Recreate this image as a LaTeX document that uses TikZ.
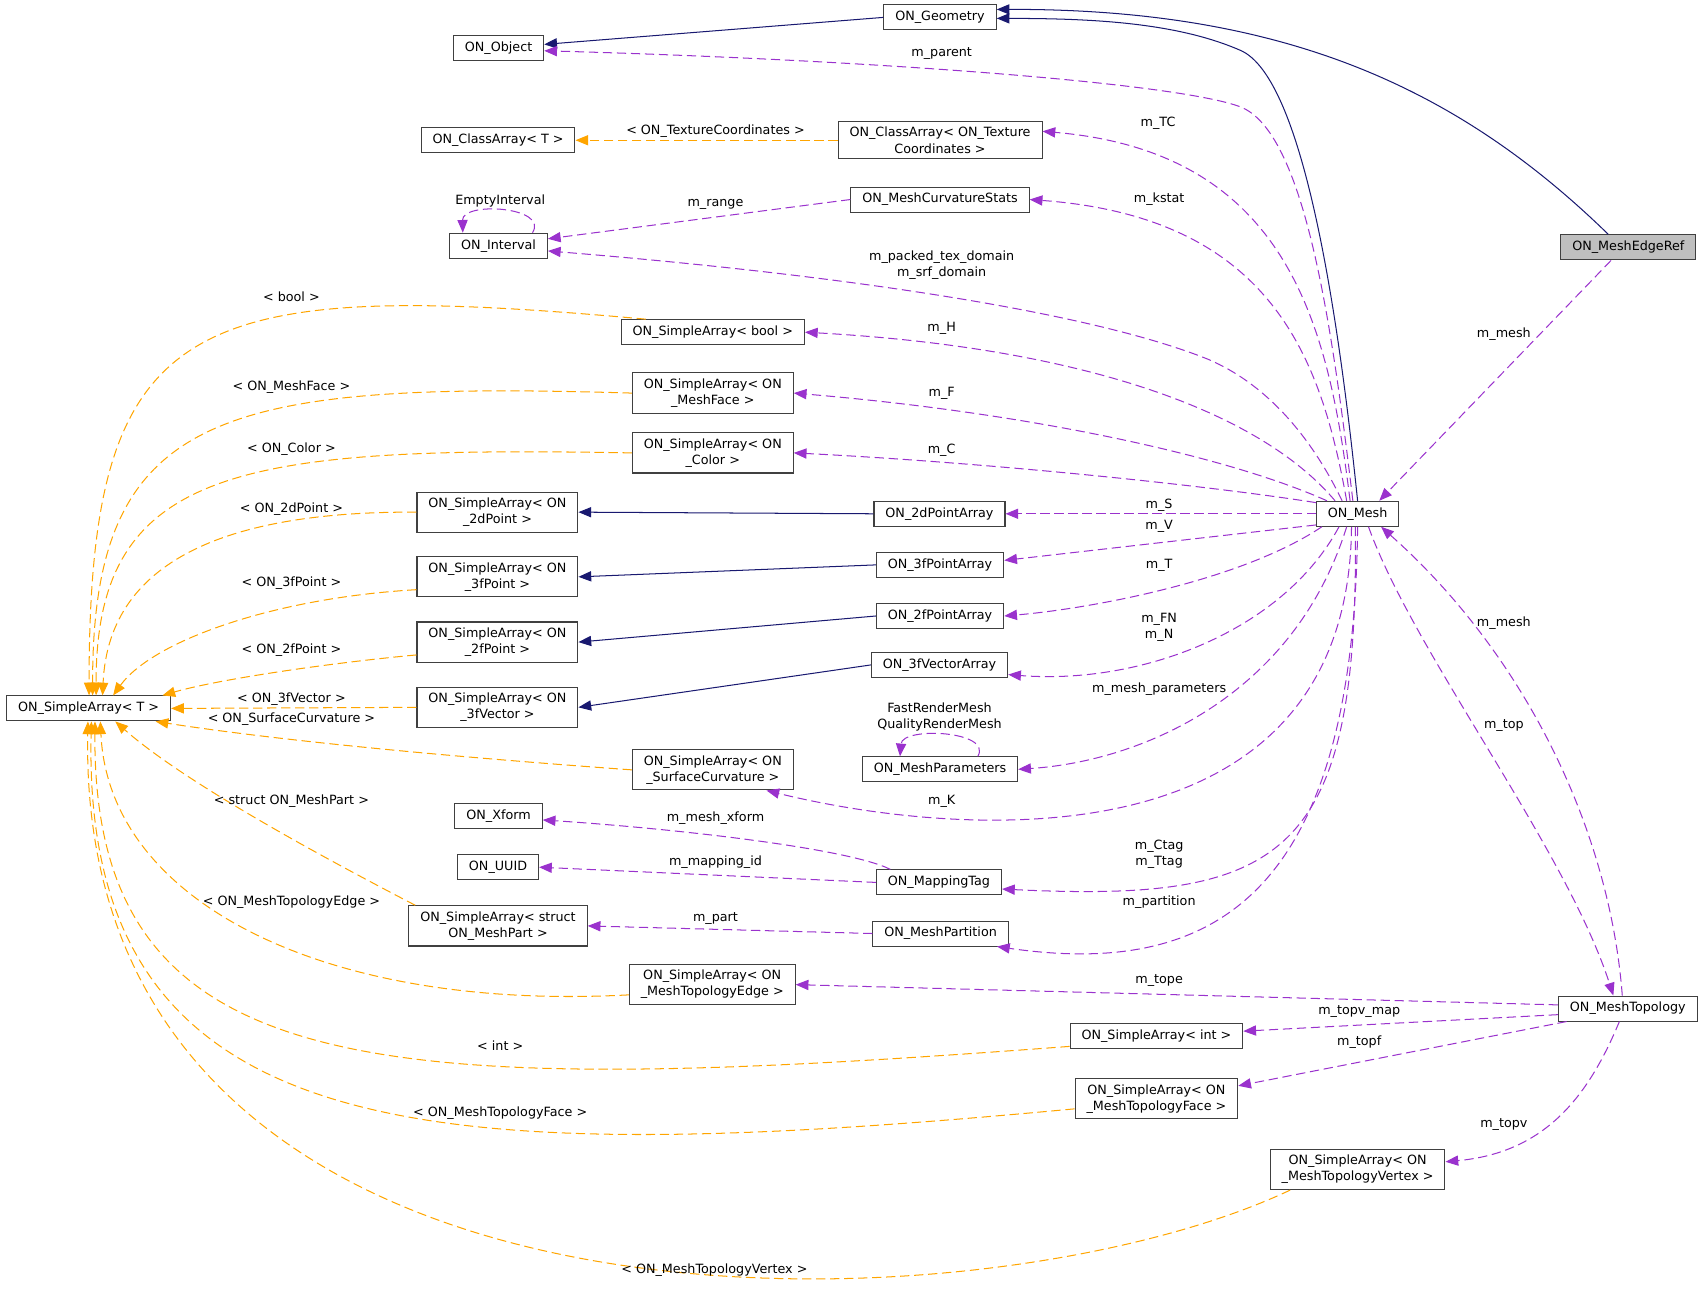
\documentclass[tikz,border=0pt]{standalone}
\usepackage{fontspec}
\setmainfont{DejaVu Sans}
\usetikzlibrary{arrows.meta}
\definecolor{navyline}{RGB}{25,25,112}
\definecolor{orchid}{RGB}{154,50,205}
\definecolor{tmplorange}{RGB}{255,165,0}
\definecolor{boxline}{RGB}{64,64,64}
\definecolor{graybox}{RGB}{191,191,191}
\tikzset{
  cls/.style={rectangle, draw=boxline, fill=white, line width=0.8pt,
    align=center, font=\fontsize{10}{12.6}\selectfont,
    inner xsep=9pt, inner ysep=4.5pt, minimum height=0.69cm},
  curcls/.style={cls, fill=graybox},
  lbl/.style={font=\fontsize{10}{12.6}\selectfont, align=center, inner sep=0pt},
  inherit/.style={draw=navyline, line width=0.8pt, -{Triangle[length=10pt,width=8pt]}},
  usage/.style={draw=orchid, line width=0.8pt, dash pattern=on 7.3pt off 3.7pt,
    -{Triangle[length=10pt,width=8pt]}},
  tmpl/.style={draw=tmplorange, line width=0.8pt, dash pattern=on 7.3pt off 3.7pt,
    -{Triangle[length=10pt,width=8pt]}}
}
\begin{document}
\begin{tikzpicture}[x=0.03cm, y=-0.03cm]
  \useasboundingbox (0,0) rectangle (1568,1185);

  % Classes
  \node[cls] (geometry) at (864.5,16) {ON\_Geometry};
  \node[cls] (object) at (458.5,44.5) {ON\_Object};
  \node[cls] (classT) at (458,129) {ON\_ClassArray< T >};
  \node[cls] (classTC) at (864.5,129) {ON\_ClassArray< ON\_Texture\\Coordinates >};
  \node[cls] (curvstats) at (864.5,183.5) {ON\_MeshCurvatureStats};
  \node[cls] (interval) at (458.5,226) {ON\_Interval};
  \node[cls] (sabool) at (655.5,305.5) {ON\_SimpleArray< bool >};
  \node[cls] (saface) at (655.5,361.5) {ON\_SimpleArray< ON\\\_MeshFace >};
  \node[cls] (sacolor) at (655.5,416.5) {ON\_SimpleArray< ON\\\_Color >};
  \node[cls] (sa2dpt) at (457.5,471) {ON\_SimpleArray< ON\\\_2dPoint >};
  \node[cls] (pa2d) at (864,472.5) {ON\_2dPointArray};
  \node[cls] (sa3fpt) at (457.5,530.5) {ON\_SimpleArray< ON\\\_3fPoint >};
  \node[cls] (pa3f) at (864.5,519.5) {ON\_3fPointArray};
  \node[cls] (sa2fpt) at (457.5,590.5) {ON\_SimpleArray< ON\\\_2fPoint >};
  \node[cls] (pa2f) at (864.5,566.5) {ON\_2fPointArray};
  \node[cls] (va3f) at (864,611.5) {ON\_3fVectorArray};
  \node[cls] (sa3fvec) at (457.5,650.5) {ON\_SimpleArray< ON\\\_3fVector >};
  \node[cls] (saT) at (81.5,651.5) {ON\_SimpleArray< T >};
  \node[cls] (meshparams) at (864.5,707.5) {ON\_MeshParameters};
  \node[cls] (sacurv) at (655.5,708) {ON\_SimpleArray< ON\\\_SurfaceCurvature >};
  \node[cls] (xform) at (458.5,750.5) {ON\_Xform};
  \node[cls] (uuid) at (458,797.5) {ON\_UUID};
  \node[cls] (maptag) at (863.5,811.5) {ON\_MappingTag};
  \node[cls] (sapart) at (458,851.5) {ON\_SimpleArray< struct\\ON\_MeshPart >};
  \node[cls] (partition) at (865,858.5) {ON\_MeshPartition};
  \node[cls] (satopedge) at (655,905.5) {ON\_SimpleArray< ON\\\_MeshTopologyEdge >};
  \node[cls] (saint) at (1063.5,952.5) {ON\_SimpleArray< int >};
  \node[cls] (satopface) at (1063.5,1010.5) {ON\_SimpleArray< ON\\\_MeshTopologyFace >};
  \node[cls] (satopvert) at (1248.5,1075.5) {ON\_SimpleArray< ON\\\_MeshTopologyVertex >};
  \node[cls] (mesh) at (1248.5,472.5) {ON\_Mesh};
  \node[curcls] (edgeref) at (1497.5,227.5) {ON\_MeshEdgeRef};
  \node[cls] (topology) at (1497,927.5) {ON\_MeshTopology};

  % Inheritance
  \draw[inherit] (geometry.west) -- (object.5);
  \draw[inherit] (mesh.north) .. controls (1232,300) and (1200,70) .. (1140,46)
    .. controls (1080,20) and (1000,17) .. (geometry.359);
  \draw[inherit] (edgeref.147) .. controls (1340,80) and (1180,8) .. (geometry.8);
  \draw[inherit] (pa2d.west) -- (sa2dpt.east);
  \draw[inherit] (pa3f.west) -- (sa3fpt.east);
  \draw[inherit] (pa2f.west) -- (sa2fpt.east);
  \draw[inherit] (va3f.west) -- (sa3fvec.east);

  % Members of ON_Mesh
  \draw[usage] (mesh.110) .. controls (1225,300) and (1200,120) .. (1140,98)
    .. controls (1080,76) and (800,55) .. (object.357);
  \draw[usage] (mesh.120) .. controls (1222,300) and (1185,140) .. (classTC.5);
  \draw[usage] (mesh.130) .. controls (1215,330) and (1170,200) .. (curvstats.east);
  \draw[usage] (mesh.140) .. controls (1210,410) and (1170,355) .. (1110,330)
    .. controls (1010,290) and (800,255) .. (interval.354);
  \draw[usage] (mesh.150) .. controls (1160,380) and (1000,320) .. (sabool.east);
  \draw[usage] (mesh.157) .. controls (1130,420) and (950,380) .. (saface.east);
  \draw[usage] (mesh.165) .. controls (1100,445) and (900,425) .. (sacolor.east);
  \draw[usage] (mesh.west) -- (pa2d.east);
  \draw[usage] (mesh.195) -- (pa3f.4);
  \draw[usage] (mesh.200) .. controls (1140,535) and (1000,560) .. (pa2f.east);
  \draw[usage] (mesh.215) .. controls (1180,580) and (1050,630) .. (va3f.352);
  \draw[usage] (mesh.230) .. controls (1190,640) and (1050,700) .. (meshparams.east);
  \draw[usage] (mesh.245) .. controls (1240,800) and (880,770) .. (sacurv.339);
  \draw[usage] (mesh.260) .. controls (1250,790) and (1180,830) .. (maptag.354);
  \draw[usage] (mesh.270) .. controls (1245,820) and (1120,900) .. (partition.347);
  \draw[usage] (mesh.310) .. controls (1300,600) and (1440,780) .. (topology.138);

  % Other members
  \draw[usage] (curvstats.west) -- (interval.8);
  \draw[usage] (interval.21) .. controls (505,190) and (425,185) .. (interval.160);
  \draw[usage] (meshparams.19) .. controls (913,672) and (830,668) .. (meshparams.162);
  \draw[usage] (maptag.165) .. controls (780,780) and (620,762) .. (xform.355);
  \draw[usage] (maptag.west) -- (uuid.east);
  \draw[usage] (partition.west) -- (sapart.east);
  \draw[usage] (edgeref.217) -- (mesh.31);
  \draw[usage] (topology.113) .. controls (1480,760) and (1400,600) .. (mesh.331);
  \draw[usage] (topology.177) -- (satopedge.east);
  \draw[usage] (topology.185) -- (saint.3);
  \draw[usage] (topology.192) -- (satopface.9);
  \draw[usage] (topology.237) .. controls (1460,1010) and (1420,1060) .. (satopvert.5);

  % Template instances
  \draw[tmpl] (classTC.west) -- (classT.east);
  \draw[tmpl] (sabool.169) .. controls (170,255) and (82,290) .. (saT.88);
  \draw[tmpl] (saface.west) .. controls (200,350) and (85,380) .. (saT.73);
  \draw[tmpl] (sacolor.west) .. controls (220,410) and (88,430) .. (saT.60);
  \draw[tmpl] (sa2dpt.west) .. controls (220,470) and (100,510) .. (saT.43);
  \draw[tmpl] (sa3fpt.189) .. controls (250,550) and (140,590) .. (saT.28);
  \draw[tmpl] (sa2fpt.189) .. controls (300,610) and (200,625) .. (saT.10);
  \draw[tmpl] (sa3fvec.west) -- (saT.east);
  \draw[tmpl] (sacurv.west) .. controls (400,695) and (250,680) .. (saT.349);
  \draw[tmpl] (sapart.166) .. controls (300,790) and (170,720) .. (saT.334);
  \draw[tmpl] (satopedge.187) .. controls (300,930) and (100,830) .. (saT.312);
  \draw[tmpl] (saint.187) .. controls (350,1010) and (85,1000) .. (saT.296);
  \draw[tmpl] (satopface.187) .. controls (400,1075) and (75,1060) .. (saT.282);
  \draw[tmpl] (satopvert.197) .. controls (900,1230) and (70,1260) .. (saT.267);

  % Labels
  \node[lbl] (lparent) at (866,49) {m\_parent};
  \node[lbl] (ltc) at (1065,113) {m\_TC};
  \node[lbl] (lkstat) at (1066,183) {m\_kstat};
  \node[lbl] (lrange) at (658,188) {m\_range};
  \node[lbl] (lempty) at (460,185) {EmptyInterval};
  \node[lbl] (ldomain) at (866,244) {m\_packed\_tex\_domain\\m\_srf\_domain};
  \node[lbl] (lh) at (866,302) {m\_H};
  \node[lbl] (lf) at (866,362) {m\_F};
  \node[lbl] (lc) at (866,414) {m\_C};
  \node[lbl] (ls) at (1066,465) {m\_S};
  \node[lbl] (lv) at (1066,484) {m\_V};
  \node[lbl] (lt) at (1066,520) {m\_T};
  \node[lbl] (lfn) at (1066,577) {m\_FN\\m\_N};
  \node[lbl] (lparams) at (1066,634) {m\_mesh\_parameters};
  \node[lbl] (lrender) at (864,659) {FastRenderMesh\\QualityRenderMesh};
  \node[lbl] (lk) at (866,737) {m\_K};
  \node[lbl] (lxform) at (658,752) {m\_mesh\_xform};
  \node[lbl] (lmapid) at (658,793) {m\_mapping\_id};
  \node[lbl] (ltag) at (1066,786) {m\_Ctag\\m\_Ttag};
  \node[lbl] (lpart) at (658,845) {m\_part};
  \node[lbl] (lpartition) at (1066,830) {m\_partition};
  \node[lbl] (lmeshup) at (1383,307) {m\_mesh};
  \node[lbl] (lmeshlow) at (1383,573) {m\_mesh};
  \node[lbl] (ltop) at (1383,667) {m\_top};
  \node[lbl] (ltope) at (1066,902) {m\_tope};
  \node[lbl] (ltopvmap) at (1250,930) {m\_topv\_map};
  \node[lbl] (ltopf) at (1250,958) {m\_topf};
  \node[lbl] (ltopv) at (1383,1034) {m\_topv};
  \node[lbl] (ltc2) at (658,121) {< ON\_TextureCoordinates >};
  \node[lbl] (lbool) at (268,273) {< bool >};
  \node[lbl] (lface) at (268,356) {< ON\_MeshFace >};
  \node[lbl] (lcolor) at (268,413) {< ON\_Color >};
  \node[lbl] (l2dpt) at (268,468) {< ON\_2dPoint >};
  \node[lbl] (l3fpt) at (268,536) {< ON\_3fPoint >};
  \node[lbl] (l2fpt) at (268,598) {< ON\_2fPoint >};
  \node[lbl] (l3fvec) at (268,643) {< ON\_3fVector >};
  \node[lbl] (lcurv) at (268,661) {< ON\_SurfaceCurvature >};
  \node[lbl] (lpartT) at (268,737) {< struct ON\_MeshPart >};
  \node[lbl] (ledge) at (268,830) {< ON\_MeshTopologyEdge >};
  \node[lbl] (lint) at (460,962) {< int >};
  \node[lbl] (ltface) at (460,1024) {< ON\_MeshTopologyFace >};
  \node[lbl] (ltvert) at (657,1168) {< ON\_MeshTopologyVertex >};
\end{tikzpicture}
\end{document}
